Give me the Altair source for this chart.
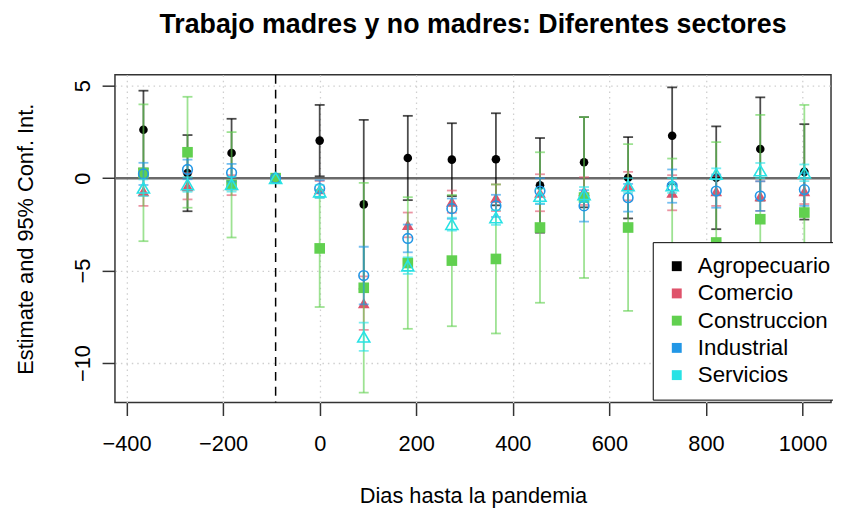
import altair as alt
import pandas as pd

days = [-365, -273.75, -182.5, -91.25, 0, 91.25, 182.5, 273.75, 365,
        456.25, 547.5, 638.75, 730, 821.25, 912.5, 1003.75]
sectors = ["Agropecuario", "Comercio", "Construccion", "Industrial", "Servicios"]
colors = ["#000000", "#DF536B", "#61D04F", "#2297E6", "#28E2E5"]

# point estimates
agro_est = [2.62, 0.27, 1.36, 0, 2.03, -1.42, 1.09, 1.00, 1.02, -0.39, 0.86, 0.02, 2.29, 0.02, 1.58, 0.34]
come_est = [-0.70, -0.43, -0.38, 0, -0.60, -6.76, -2.53, -1.27, -1.06, -0.79, -0.70, -0.43, -0.79, -0.70, -0.97, -0.70]
cons_est = [0.29, 1.40, -0.36, 0, -3.80, -5.93, -4.59, -4.46, -4.37, -2.67, -1.05, -2.67, -3.90, -3.48, -2.22, -1.86]
indu_est = [0.23, 0.47, 0.29, 0, -0.56, -5.27, -3.26, -1.65, -1.50, -0.70, -1.50, -1.06, -0.43, -0.70, -0.97, -0.62]
serv_est = [-0.52, -0.34, -0.33, 0, -0.73, -8.58, -4.73, -2.49, -2.13, -0.97, -0.88, -0.40, -0.40, 0.23, 0.41, 0.29]

# half width of the 95% confidence interval (None = reference period)
agro_ci = [2.11, 2.06, 1.85, None, 1.93, 4.57, 2.28, 1.97, 2.49, 2.56, 2.44, 2.20, 2.62, 2.78, 2.79, 2.58]
come_ci = [0.80, 0.72, 0.54, None, 0.45, 1.45, 0.67, 0.60, 0.72, 1.00, 0.75, 0.77, 0.95, 0.80, 0.80, 0.70]
cons_ci = [3.70, 3.00, 2.85, None, 3.17, 5.67, 3.56, 3.55, 4.03, 4.07, 4.35, 4.51, 4.96, 5.43, 5.64, 5.82]
indu_ci = [0.60, 0.53, 0.48, None, 0.45, 1.56, 0.75, 0.55, 0.60, 0.70, 0.85, 0.75, 0.90, 0.90, 0.80, 0.88]
serv_ci = [0.45, 0.40, 0.40, None, 0.35, 0.76, 0.45, 0.35, 0.40, 0.40, 0.40, 0.40, 0.40, 0.30, 0.41, 0.45]

x_ticks = [-400, -200, 0, 200, 400, 600, 800, 1000]
y_ticks = [-10, -5, 0, 5]
ref_day = -91.25

ests = [agro_est, come_est, cons_est, indu_est, serv_est]
cis = [agro_ci, come_ci, cons_ci, indu_ci, serv_ci]

rows = []
for s, est, ci in zip(sectors, ests, cis):
    for d, e, h in zip(days, est, ci):
        rows.append({
            "sector": s, "day": d, "est": e,
            "lo": (e - h) if h is not None else None,
            "hi": (e + h) if h is not None else None,
        })
df = pd.DataFrame(rows)

FONT = "Liberation Sans"
xscale = alt.Scale(domain=[-424, 1059], nice=False, zero=False)
yscale = alt.Scale(domain=[-12.14, 5.59], nice=False, zero=False)

xaxis = alt.Axis(values=x_ticks, format="d", title="Dias hasta la pandemia", grid=True,
                 gridColor="#CFCFCF", gridDash=[1.5, 4], gridWidth=1.3,
                 domain=False, tickColor="#333333", tickWidth=1.5, tickSize=13,
                 labelFont=FONT, labelFontSize=22, labelColor="black",
                 labelPadding=18, labelBaseline="top", labelFlush=False,
                 labelOverlap=False, titleFont=FONT, titleFontSize=22,
                 titleFontWeight="normal", titleColor="black",
                 titleBaseline="alphabetic", titleY=101)
yaxis = alt.Axis(values=y_ticks, title="Estimate and 95% Conf. Int.", grid=True,
                 gridColor="#CFCFCF", gridDash=[1.5, 4], gridWidth=1.3,
                 domain=False, tickColor="#333333", tickWidth=1.5, tickSize=13,
                 labelFont=FONT, labelFontSize=22, labelColor="black",
                 labelAngle=270, labelAlign="center", labelBaseline="alphabetic",
                 labelPadding=13, labelFlush=False, labelOverlap=False,
                 titleFont=FONT, titleFontSize=22, titleFontWeight="normal",
                 titleColor="black", titleAngle=270, titleBaseline="alphabetic",
                 titleX=-83, titleY=165.5)


def X(field="day"):
    return alt.X(f"{field}:Q", scale=xscale, axis=xaxis)


def Y(field):
    return alt.Y(f"{field}:Q", scale=yscale, axis=yaxis)


zero_line = alt.Chart(pd.DataFrame({"v": [0]})).mark_rule(
    color="#6A6A6A", strokeWidth=2.5).encode(y=Y("v"))
ref_line = alt.Chart(pd.DataFrame({"d": [ref_day]})).mark_rule(
    color="black", strokeWidth=1.5, strokeDash=[9, 6]).encode(x=X("d"))

layers = [zero_line, ref_line]

shapes = {
    "Agropecuario": dict(shape="circle", filled=True, size=75),
    "Comercio": dict(shape="triangle-up", filled=True, size=140),
    "Construccion": dict(shape="square", filled=True, size=115),
    "Industrial": dict(shape="circle", filled=False, size=95, strokeWidth=1.6),
    "Servicios": dict(shape="triangle-up", filled=False, size=150, strokeWidth=1.6),
}

base = alt.Chart(df)
for s, c in zip(sectors, colors):
    sub = base.transform_filter(alt.datum.sector == s)
    ci_sub = sub.transform_filter("isValid(datum.lo)")
    op = 0.7 if s == "Agropecuario" else 0.62
    rule = ci_sub.mark_rule(color=c, strokeWidth=1.8, opacity=op).encode(
        x=X(), y=Y("lo"), y2="hi:Q")
    cap_lo = ci_sub.mark_tick(orient="horizontal", size=10, thickness=1.8,
                              color=c, opacity=op).encode(x=X(), y=Y("lo"))
    cap_hi = ci_sub.mark_tick(orient="horizontal", size=10, thickness=1.8,
                              color=c, opacity=op).encode(x=X(), y=Y("hi"))
    pts = sub.mark_point(color=c, opacity=1, **shapes[s]).encode(x=X(), y=Y("est"))
    layers += [rule, cap_lo, cap_hi, pts]

legend_layer = base.mark_point(shape="square", filled=True, size=0, opacity=1).encode(
    x=X(), y=Y("est"),
    color=alt.Color("sector:N", scale=alt.Scale(domain=sectors, range=colors),
                    legend=alt.Legend(orient="none", legendX=543, legendY=169,
                                      title=None, symbolType="square",
                                      symbolSize=100, symbolStrokeWidth=0,
                                      symbolOpacity=1,
                                      labelFont=FONT, labelFontSize=22.5,
                                      labelColor="black", fillColor="white",
                                      strokeColor="black", padding=13,
                                      rowPadding=4.5, labelOffset=10)))
layers.append(legend_layer)

chart = alt.layer(*layers).properties(
    width=723, height=331,
    title=alt.TitleParams("Trabajo madres y no madres: Diferentes sectores",
                          font=FONT, fontSize=27, fontWeight="bold",
                          color="black", anchor="middle", frame="group",
                          offset=35),
    autosize=alt.AutoSizeParams(type="none"),
    padding={"left": 108, "top": 65, "right": 2, "bottom": 106},
).configure_view(stroke="#333333", strokeWidth=1.5)

chart.save("out.html", embed_options={"renderer": "svg", "actions": False})
